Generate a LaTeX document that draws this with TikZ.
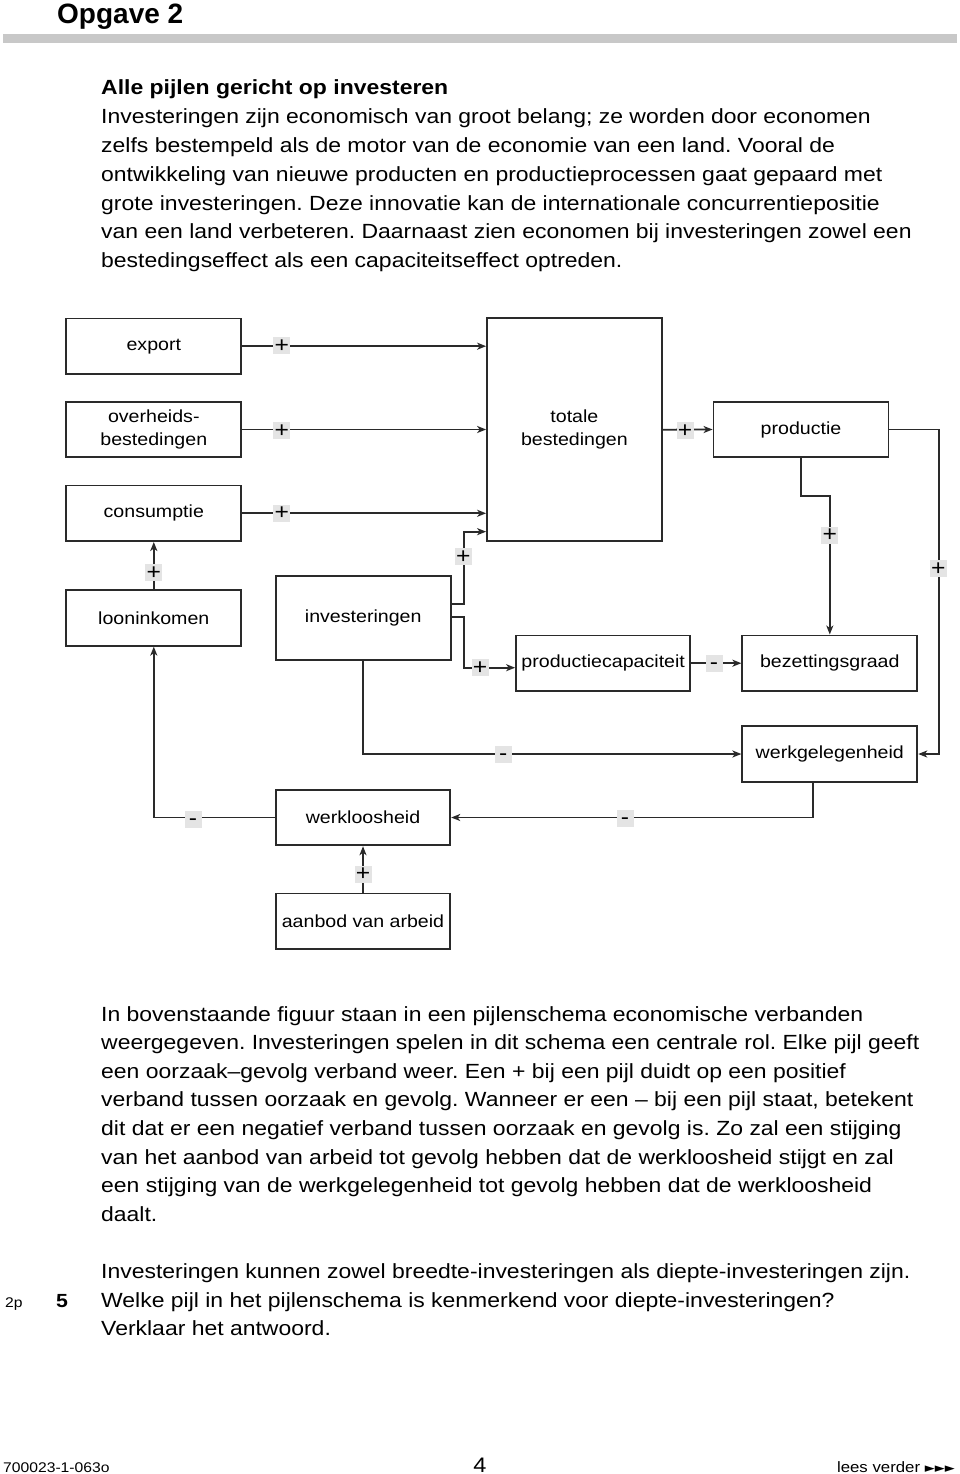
\documentclass[tikz,border=0pt]{standalone}
\usepackage{fontspec}
\setmainfont{Liberation Sans}[FakeStretch=1.12]
\newfontfamily\headfont{Liberation Sans}
\newfontfamily\symfont{DejaVu Sans}
\usetikzlibrary{arrows.meta}
\definecolor{linec}{HTML}{2A2A2A}
\definecolor{lblgray}{HTML}{E4E4E4}
\definecolor{rulegray}{HTML}{C8C8C8}
\frenchspacing
\newcommand{\mn}{\vphantom{+}-}
\tikzset{
  bx/.style={draw=linec, line width=1.8pt, rectangle, inner sep=0pt, align=center,
    minimum width=175pt, minimum height=55.6pt, font=\fontsize{17.5}{22.7}\selectfont, text=black},
  arr/.style={draw=linec, line width=1.8pt, -{Stealth[length=9pt,width=7pt,inset=2.5pt]}},
  lbl/.style={fill=lblgray, minimum width=17pt, minimum height=17pt, inner sep=0pt,
    font=\fontsize{22}{22}\selectfont},
  txt/.style={anchor=base west, inner sep=0pt, font=\fontsize{20.5}{24}\selectfont},
}
\begin{document}
\begin{tikzpicture}[x=1pt,y=-1pt]
\useasboundingbox (0,0) rectangle (960,1474);
\fill[white] (0,0) rectangle (960,1474);

% heading
\node[anchor=base west, inner sep=0pt, font=\headfont\bfseries\fontsize{28}{30}\selectfont] (head) at (57,23.3) {Opgave 2};
\fill[rulegray] (3,34) rectangle (957,43);

% intro text
\node[txt, font=\bfseries\fontsize{20.5}{24}\selectfont] (t0) at (101,95) {Alle pijlen gericht op investeren};
\node[txt] (t1) at (101,124) {Investeringen zijn economisch van groot belang; ze worden door economen};
\node[txt] (t2) at (101,152.6) {zelfs bestempeld als de motor van de economie van een land. Vooral de};
\node[txt] (t3) at (101,181.3) {ontwikkeling van nieuwe producten en productieprocessen gaat gepaard met};
\node[txt] (t4) at (101,210) {grote investeringen. Deze innovatie kan de internationale concurrentiepositie};
\node[txt] (t5) at (101,238.6) {van een land verbeteren. Daarnaast zien economen bij investeringen zowel een};
\node[txt] (t6) at (101,267.3) {bestedingseffect als een capaciteitseffect optreden.};

% boxes
\node[bx] (exp) at (153.8,346.2) {export};
\node[bx] (ovh) at (153.8,429.5) {overheids-\\bestedingen};
\node[bx] (con) at (153.8,513.3) {consumptie};
\node[bx] (loon) at (153.8,617.9) {looninkomen};
\node[bx, minimum height=84pt] (inv) at (363.2,618) {investeringen};
\node[bx, minimum width=174.7pt, minimum height=222.7pt] (tot) at (574.4,429.7) {totale\\bestedingen};
\node[bx] (prod) at (801,429.5) {productie};
\node[bx, minimum width=174.3pt] (pc) at (603.2,663.2) {productiecapaciteit};
\node[bx] (bez) at (829.8,663.2) {bezettingsgraad};
\node[bx] (werk) at (829.8,754) {werkgelegenheid};
\node[bx, minimum width=174.6pt] (wl) at (363,817.5) {werkloosheid};
\node[bx, minimum width=174.6pt] (ab) at (363,921.2) {aanbod van arbeid};

% connectors
\draw[arr] (exp.east) -- (exp.east -| tot.west);
\draw[arr] (ovh.east) -- (ovh.east -| tot.west);
\draw[arr] (con.east) -- (con.east -| tot.west);
\draw[arr] (loon.north) -- (con.south);
\draw[arr] ([yshift=13.7pt]inv.east) -- ++(12.6,0) |- ([yshift=10.3pt]tot.south west);
\draw[arr] ([yshift=1.3pt]inv.east) -- ++(12.6,0) |- ([yshift=-4.5pt]pc.west);
\draw[arr] (tot.east) -- (prod.west);
\draw[arr] (pc.east) -- (bez.west);
\draw[arr] (prod.south) -- ++(0,37.7) -| (bez.north);
\draw[arr] (prod.east) -- ++(49.6,0) |- (werk.east);
\draw[arr] (inv.south) |- (werk.west);
\draw[arr] ([xshift=-17pt]werk.south) |- (wl.east);
\draw[arr] (wl.west) -| (loon.south);
\draw[arr] (ab.north) -- (wl.south);

% sign labels
\node[lbl] (s1) at (281.7,345.7) {+};
\node[lbl] (s2) at (281.7,430.7) {+};
\node[lbl] (s3) at (281.7,513.3) {+};
\node[lbl] (s4) at (153.8,572.7) {+};
\node[lbl] (s5) at (463.3,556.7) {+};
\node[lbl] (s6) at (480,667.7) {+};
\node[lbl] (s7) at (685,430.7) {+};
\node[lbl] (s8) at (714,663) {\mn};
\node[lbl] (s9) at (829.8,535.3) {+};
\node[lbl] (s10) at (938.3,568.7) {+};
\node[lbl] (s11) at (503.3,754) {\mn};
\node[lbl] (s12) at (625,818) {\mn};
\node[lbl] (s13) at (193,819) {\mn};
\node[lbl] (s14) at (363,874.3) {+};

% lower text
\node[txt] (b1) at (101,1021) {In bovenstaande figuur staan in een pijlenschema economische verbanden};
\node[txt] (b2) at (101,1049.6) {weergegeven. Investeringen spelen in dit schema een centrale rol. Elke pijl geeft};
\node[txt] (b3) at (101,1078.2) {een oorzaak–gevolg verband weer. Een + bij een pijl duidt op een positief};
\node[txt] (b4) at (101,1106.8) {verband tussen oorzaak en gevolg. Wanneer er een – bij een pijl staat, betekent};
\node[txt] (b5) at (101,1135.4) {dit dat er een negatief verband tussen oorzaak en gevolg is. Zo zal een stijging};
\node[txt] (b6) at (101,1164) {van het aanbod van arbeid tot gevolg hebben dat de werkloosheid stijgt en zal};
\node[txt] (b7) at (101,1192.6) {een stijging van de werkgelegenheid tot gevolg hebben dat de werkloosheid};
\node[txt] (b8) at (101,1221.2) {daalt.};

\node[txt] (q1) at (101,1278) {Investeringen kunnen zowel breedte-investeringen als diepte-investeringen zijn.};
\node[txt] (q2) at (101,1307) {Welke pijl in het pijlenschema is kenmerkend voor diepte-investeringen?};
\node[txt] (q3) at (101,1335.6) {Verklaar het antwoord.};
\node[anchor=base west, inner sep=0pt, font=\fontsize{14}{16}\selectfont] (pts) at (5,1307) {2p};
\node[anchor=base west, inner sep=0pt, font=\bfseries\fontsize{19}{20}\selectfont] (qn) at (56,1307) {5};

% footer
\node[anchor=base west, inner sep=0pt, font=\fontsize{14}{16}\selectfont] (f1) at (3,1472) {700023-1-063o};
\node[anchor=base, inner sep=0pt, font=\fontsize{21}{22}\selectfont] (f2) at (480,1472) {4};
\node[anchor=base east, inner sep=0pt, font=\fontsize{15}{16}\selectfont] (f3) at (955,1472) {lees verder {\symfont\fontsize{13}{13}\selectfont ►►►}};
\end{tikzpicture}
\end{document}
